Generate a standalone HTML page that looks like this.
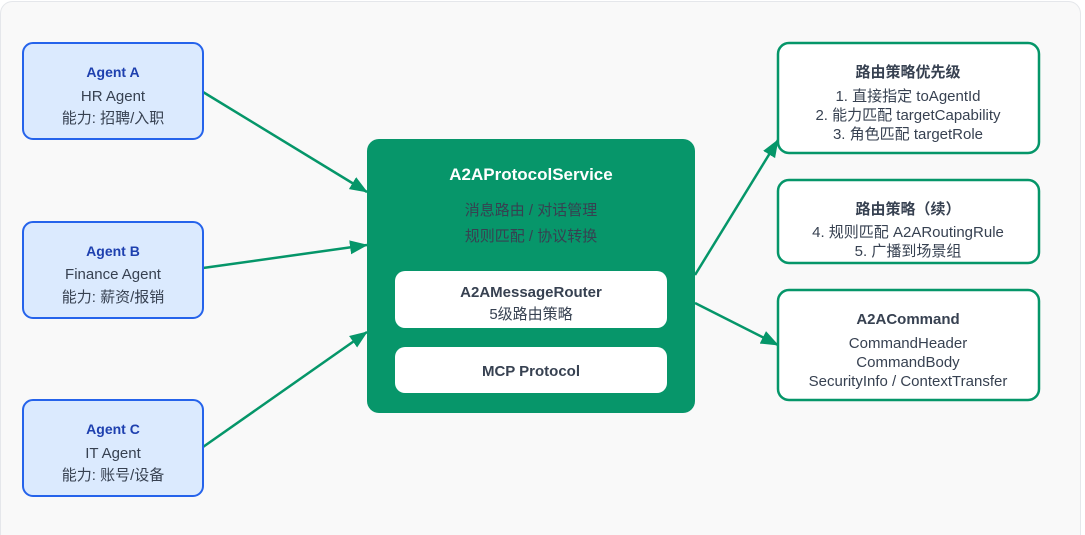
<!DOCTYPE html>
<html><head><meta charset="utf-8"><style>
html,body{margin:0;padding:0;background:#fff;width:1085px;height:535px;overflow:hidden;}
svg{display:block;font-family:"Liberation Sans","Noto Sans CJK SC",sans-serif;}
</style></head><body>
<svg width="1085" height="535" viewBox="0 0 1085 535" xmlns="http://www.w3.org/2000/svg">
<defs>
<marker id="ar2" markerWidth="18" markerHeight="14" refX="17" refY="7" orient="auto" markerUnits="userSpaceOnUse" viewBox="0 0 18 14"><path d="M0,0 L18,7 L0,14 z" fill="#059669"/></marker></defs>
<rect x="0.5" y="1.5" width="1080" height="560" rx="12" fill="#f9f9f9" stroke="#e5e7eb"/>
<g stroke="#059669" stroke-width="2.5" fill="none" marker-end="url(#ar2)">
<line x1="203" y1="92" x2="367" y2="192"/>
<line x1="203" y1="268" x2="367" y2="245"/>
<line x1="203" y1="447" x2="367" y2="332"/>
<line x1="695" y1="275" x2="778" y2="140"/>
<line x1="695" y1="303" x2="778" y2="345"/>
</g>
<g fill="#dbeafe" stroke="#2563eb" stroke-width="2">
<rect x="23" y="43" width="180" height="96" rx="10"/>
<rect x="23" y="222" width="180" height="96" rx="10"/>
<rect x="23" y="400" width="180" height="96" rx="10"/>
</g>
<g text-anchor="middle" font-size="15" fill="#374151">
<text x="113" y="77" font-weight="bold" font-size="14" fill="#1e40af">Agent A</text>
<text x="113" y="101">HR Agent</text>
<text x="113" y="123">能力: 招聘/入职</text>
<text x="113" y="256" font-weight="bold" font-size="14" fill="#1e40af">Agent B</text>
<text x="113" y="279">Finance Agent</text>
<text x="113" y="302">能力: 薪资/报销</text>
<text x="113" y="434" font-weight="bold" font-size="14" fill="#1e40af">Agent C</text>
<text x="113" y="458">IT Agent</text>
<text x="113" y="480">能力: 账号/设备</text>
</g>
<rect x="367" y="139" width="328" height="274" rx="12" fill="#07966a"/>
<rect x="395" y="271" width="272" height="57" rx="10" fill="#fff"/>
<rect x="395" y="347" width="272" height="46" rx="10" fill="#fff"/>
<g text-anchor="middle" fill="#374151">
<text x="531" y="180" font-weight="bold" font-size="17" fill="#fff">A2AProtocolService</text>
<text x="531" y="215" font-size="15">消息路由 / 对话管理</text>
<text x="531" y="241" font-size="15">规则匹配 / 协议转换</text>
<text x="531" y="297" font-weight="bold" font-size="15">A2AMessageRouter</text>
<text x="531" y="319" font-size="15">5级路由策略</text>
<text x="531" y="376" font-weight="bold" font-size="15">MCP Protocol</text>
</g>
<g fill="#fff" stroke="#059669" stroke-width="2.5">
<rect x="778" y="43" width="261" height="110" rx="11"/>
<rect x="778" y="180" width="261" height="83" rx="11"/>
<rect x="778" y="290" width="261" height="110" rx="11"/>
</g>
<g text-anchor="middle" fill="#374151" font-size="15">
<text x="908" y="77" font-weight="bold">路由策略优先级</text>
<text x="908" y="101">1. 直接指定 toAgentId</text>
<text x="908" y="120">2. 能力匹配 targetCapability</text>
<text x="908" y="139">3. 角色匹配 targetRole</text>
<text x="908" y="214" font-weight="bold">路由策略（续）</text>
<text x="908" y="237">4. 规则匹配 A2ARoutingRule</text>
<text x="908" y="256">5. 广播到场景组</text>
<text x="908" y="324" font-weight="bold">A2ACommand</text>
<text x="908" y="348">CommandHeader</text>
<text x="908" y="367">CommandBody</text>
<text x="908" y="386">SecurityInfo / ContextTransfer</text>
</g>
</svg>
</body></html>
